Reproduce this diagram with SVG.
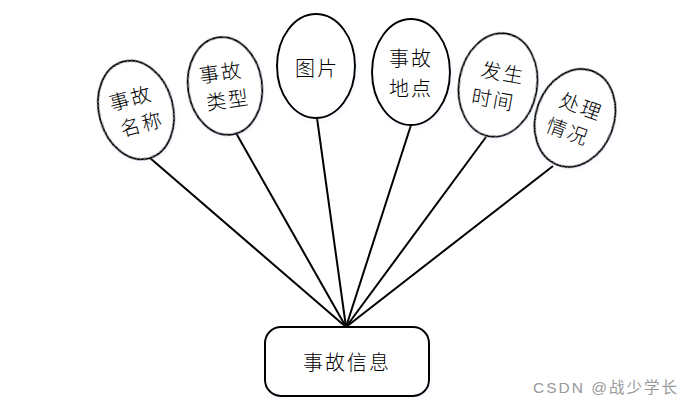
<svg xmlns="http://www.w3.org/2000/svg" width="685" height="407" viewBox="0 0 685 407">
<style>
.n{fill:#fff;stroke:#000;stroke-width:2}
.t{font-family:"Noto Sans CJK SC","Noto Sans CJK JP",sans-serif;font-weight:300;font-size:20px;fill:#000;text-anchor:middle;dominant-baseline:central;letter-spacing:2px}
.c{stroke:#000;stroke-width:2;fill:none}
.w{font-family:"Liberation Sans","Noto Sans CJK SC",sans-serif;font-size:15.5px;fill:#999}
</style>
<defs>
<filter id="sh" x="-20%" y="-20%" width="140%" height="140%">
<feGaussianBlur in="SourceAlpha" stdDeviation="2.5"/>
<feOffset dx="1" dy="2"/>
<feComponentTransfer><feFuncA type="linear" slope="0.15"/></feComponentTransfer>
<feColorMatrix type="matrix" values="0 0 0 0 0.5 0 0 0 0 0.6 0 0 0 0 0.9 0 0 0 1 0"/>
<feMerge><feMergeNode/><feMergeNode in="SourceGraphic"/></feMerge>
</filter>
</defs>
<rect width="685" height="407" fill="#fff"/>
<g id="connectors">
<line class="c" x1="150" y1="158" x2="346" y2="327"/>
<line class="c" x1="236" y1="133" x2="346" y2="327"/>
<line class="c" x1="317" y1="118" x2="346" y2="327"/>
<line class="c" x1="411" y1="125" x2="346" y2="327"/>
<line class="c" x1="486" y1="137" x2="346" y2="327"/>
<line class="c" x1="553" y1="166" x2="346" y2="327"/>
</g>
<g id="n1" transform="translate(136,110) rotate(-15)">
<ellipse class="n" filter="url(#sh)" cx="0" cy="0" rx="37" ry="50"/>
<text class="t" x="-2" y="-14">事故</text>
<text class="t" x="2" y="14">名称</text>
</g>
<g id="n2" transform="translate(225,86) rotate(-8)">
<ellipse class="n" filter="url(#sh)" cx="0" cy="0" rx="37" ry="49"/>
<text class="t" x="-2" y="-15">事故</text>
<text class="t" x="1" y="13">类型</text>
</g>
<g id="n3" transform="translate(316,66)">
<ellipse class="n" filter="url(#sh)" cx="0" cy="0" rx="39" ry="52"/>
<text class="t" x="1" y="1">图片</text>
</g>
<g id="n4" transform="translate(411,72)">
<ellipse class="n" filter="url(#sh)" cx="0" cy="0" rx="39" ry="53"/>
<text class="t" x="0" y="-15">事故</text>
<text class="t" x="0" y="15">地点</text>
</g>
<g id="n5" transform="translate(498,85) rotate(10)">
<ellipse class="n" filter="url(#sh)" cx="0" cy="0" rx="39" ry="52"/>
<text class="t" x="3" y="-14">发生</text>
<text class="t" x="-2" y="14">时间</text>
</g>
<g id="n6" transform="translate(575,118) rotate(20)">
<ellipse class="n" filter="url(#sh)" cx="0" cy="0" rx="39" ry="50"/>
<text class="t" x="2" y="-14">处理</text>
<text class="t" x="-2" y="14">情况</text>
</g>
<g id="n7">
<rect class="n" filter="url(#sh)" x="265" y="327" width="164" height="69" rx="16"/>
<text class="t" x="347" y="361">事故信息</text>
</g>
<text class="w" x="533" y="393" textLength="144" lengthAdjust="spacing">CSDN @战少学长</text>
</svg>
